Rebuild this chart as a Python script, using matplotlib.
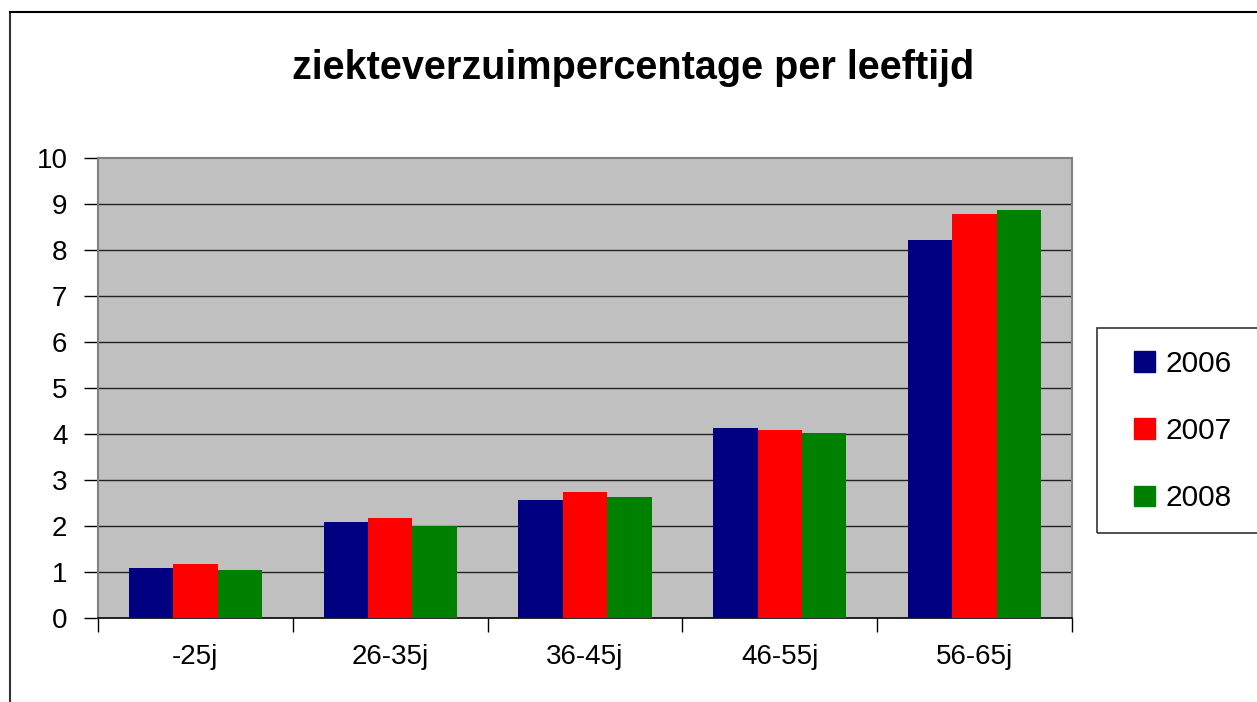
import matplotlib
matplotlib.use("Agg")
import matplotlib.pyplot as plt
import matplotlib.patches as mpatches
from matplotlib.lines import Line2D
import numpy as np

categories = ["-25j", "26-35j", "36-45j", "46-55j", "56-65j"]
years = ["2006", "2007", "2008"]
v2006 = [1.08, 2.08, 2.56, 4.12, 8.21]
v2007 = [1.17, 2.17, 2.74, 4.08, 8.78]
v2008 = [1.04, 2.00, 2.64, 4.03, 8.86]
yticks = list(range(0, 11))
title = "ziekteverzuimpercentage per leeftijd"

colors = ["#000080", "#FF0000", "#008000"]
series = [v2006, v2007, v2008]

plt.rcParams['font.family'] = ['Liberation Sans', 'DejaVu Sans']

W, H = 1257, 702
fig = plt.figure(figsize=(W / 100, H / 100), dpi=100)
fig.patch.set_facecolor("white")

L, R, B, T = 98, 1072, 618, 158
ax = fig.add_axes([L / W, (H - B) / H, (R - L) / W, (B - T) / H])
ax.set_facecolor("#C0C0C0")

x = np.arange(len(categories))
bw = 0.228
for i, (vals, c) in enumerate(zip(series, colors)):
    ax.bar(x + (i - 1) * bw, vals, width=bw, color=c, label=years[i], zorder=3)

ax.set_xlim(-0.5, len(categories) - 0.5)
ax.set_ylim(0, 10)
ax.set_yticks(yticks)
ax.set_yticklabels([str(t) for t in yticks])
for t in yticks[1:-1]:
    ax.axhline(t, color="#222222", lw=1.0, zorder=1)

ax.set_xticks(x)
ax.set_xticklabels(categories)
ax.set_xticks(np.arange(len(categories) + 1) - 0.5, minor=True)
ax.tick_params(axis="x", which="major", length=0, pad=19, labelsize=20)
ax.tick_params(axis="x", which="minor", length=10, width=1, color="black", direction="out")
ax.tick_params(axis="y", length=10, width=1, color="black", direction="out", pad=12, labelsize=20)

for s in ["left", "right", "top"]:
    ax.spines[s].set_color("#808080")
    ax.spines[s].set_linewidth(1.5)
ax.spines["bottom"].set_color("black")
ax.spines["bottom"].set_linewidth(1.2)

fig.text(633 / W, 1 - 79 / H, title, ha="center", va="baseline",
         fontsize=28.5, fontweight="bold")

# figure frame (top and left lines)
fig.add_artist(Line2D([9.5 / W, 9.5 / W], [0, 1 - 12 / H], transform=fig.transFigure,
                      color="#333333", lw=1.5))
fig.add_artist(Line2D([9.5 / W, 1], [1 - 12 / H, 1 - 12 / H], transform=fig.transFigure,
                      color="black", lw=1.5))

# legend box
fig.add_artist(mpatches.Rectangle((1097 / W, (H - 533) / H), (W - 1097 + 5) / W, 205 / H,
                                  transform=fig.transFigure, fill=False,
                                  edgecolor="#333333", lw=1.2))
handles = [mpatches.Patch(color=c) for c in colors]
fig.legend(handles, years, loc="center left",
           bbox_to_anchor=(1107 / W, 1 - 431 / H), frameon=False,
           fontsize=21.5, handlelength=0.7, handleheight=0.7,
           handletextpad=0.35, labelspacing=1.32)

fig.savefig("out.png", dpi=100, facecolor="white")
